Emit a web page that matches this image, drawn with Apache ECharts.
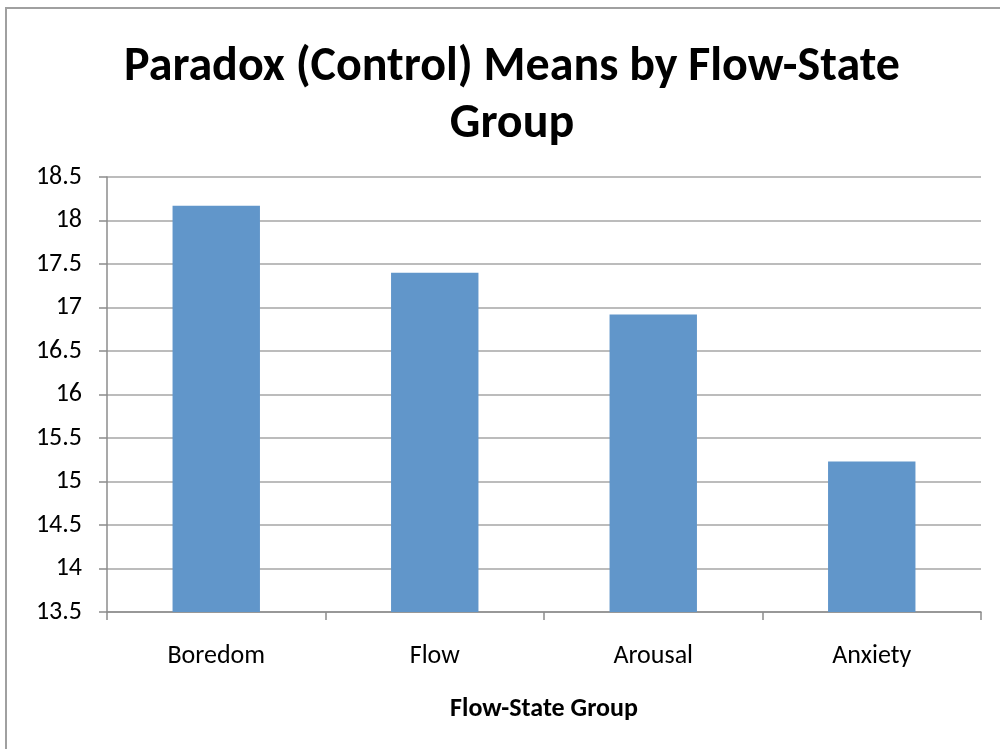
<!DOCTYPE html>
<html>
<head>
<meta charset="utf-8">
<script src="https://cdn.jsdelivr.net/npm/echarts@6/dist/echarts.min.js"></script>
<style>
  html, body { margin: 0; padding: 0; background: #ffffff; }
  #chart { width: 1000px; height: 749px; }
</style>
</head>
<body>
<div id="chart"></div>
<script>
// Flow-state groups and their mean paradox (control) scores
const categories = ['Boredom', 'Flow', 'Arousal', 'Anxiety'];
const means = [18.17, 17.40, 16.92, 15.23];

// Value axis range and step
const yMin = 13.5;
const yMax = 18.5;
const yStep = 0.5;

const FONT = "Carlito, 'Open Sans', sans-serif";
const GRID_GRAY = '#a6a6a6';

const chart = echarts.init(document.getElementById('chart'), null, { renderer: 'canvas' });

chart.setOption({
  backgroundColor: '#ffffff',
  animation: false,
  title: {
    text: 'Paradox (Control) Means by Flow-State\nGroup',
    left: 507,
    textAlign: 'center',
    top: 34,
    textStyle: {
      fontFamily: FONT,
      fontWeight: 'bold',
      fontSize: 48,
      lineHeight: 57,
      color: '#000000'
    }
  },
  graphic: [{
    type: 'rect',
    shape: { x: 6, y: 8, width: 1100, height: 900 },
    style: { fill: 'none', stroke: '#a0a0a0', lineWidth: 2 },
    silent: true
  }],
  grid: {
    left: 107,
    right: 19,
    top: 177,
    bottom: 137,
    containLabel: false
  },
  xAxis: {
    type: 'category',
    data: categories,
    name: 'Flow-State Group',
    nameLocation: 'middle',
    nameGap: 84,
    nameTextStyle: {
      fontFamily: FONT,
      fontWeight: 'bold',
      fontSize: 26,
      color: '#000000'
    },
    axisLine: { show: true, lineStyle: { color: '#8c8c8c', width: 1.5 } },
    axisTick: { show: true, length: 8, lineStyle: { color: '#8c8c8c', width: 1.5 } },
    axisLabel: {
      fontFamily: FONT,
      fontSize: 26,
      color: '#000000',
      margin: 31
    },
    splitLine: { show: false }
  },
  yAxis: {
    type: 'value',
    min: yMin,
    max: yMax,
    interval: yStep,
    axisLine: { show: true, lineStyle: { color: '#8c8c8c', width: 1.5 } },
    axisTick: { show: true, length: 8, lineStyle: { color: '#8c8c8c', width: 1.5 } },
    axisLabel: {
      fontFamily: FONT,
      fontSize: 26,
      color: '#000000',
      margin: 25
    },
    splitLine: { show: true, lineStyle: { color: GRID_GRAY, width: 1.5 } }
  },
  series: [{
    type: 'bar',
    data: means,
    barCategoryGap: '60%',
    itemStyle: { color: '#6196ca' },
    emphasis: { disabled: true }
  }]
});
</script>
</body>
</html>
